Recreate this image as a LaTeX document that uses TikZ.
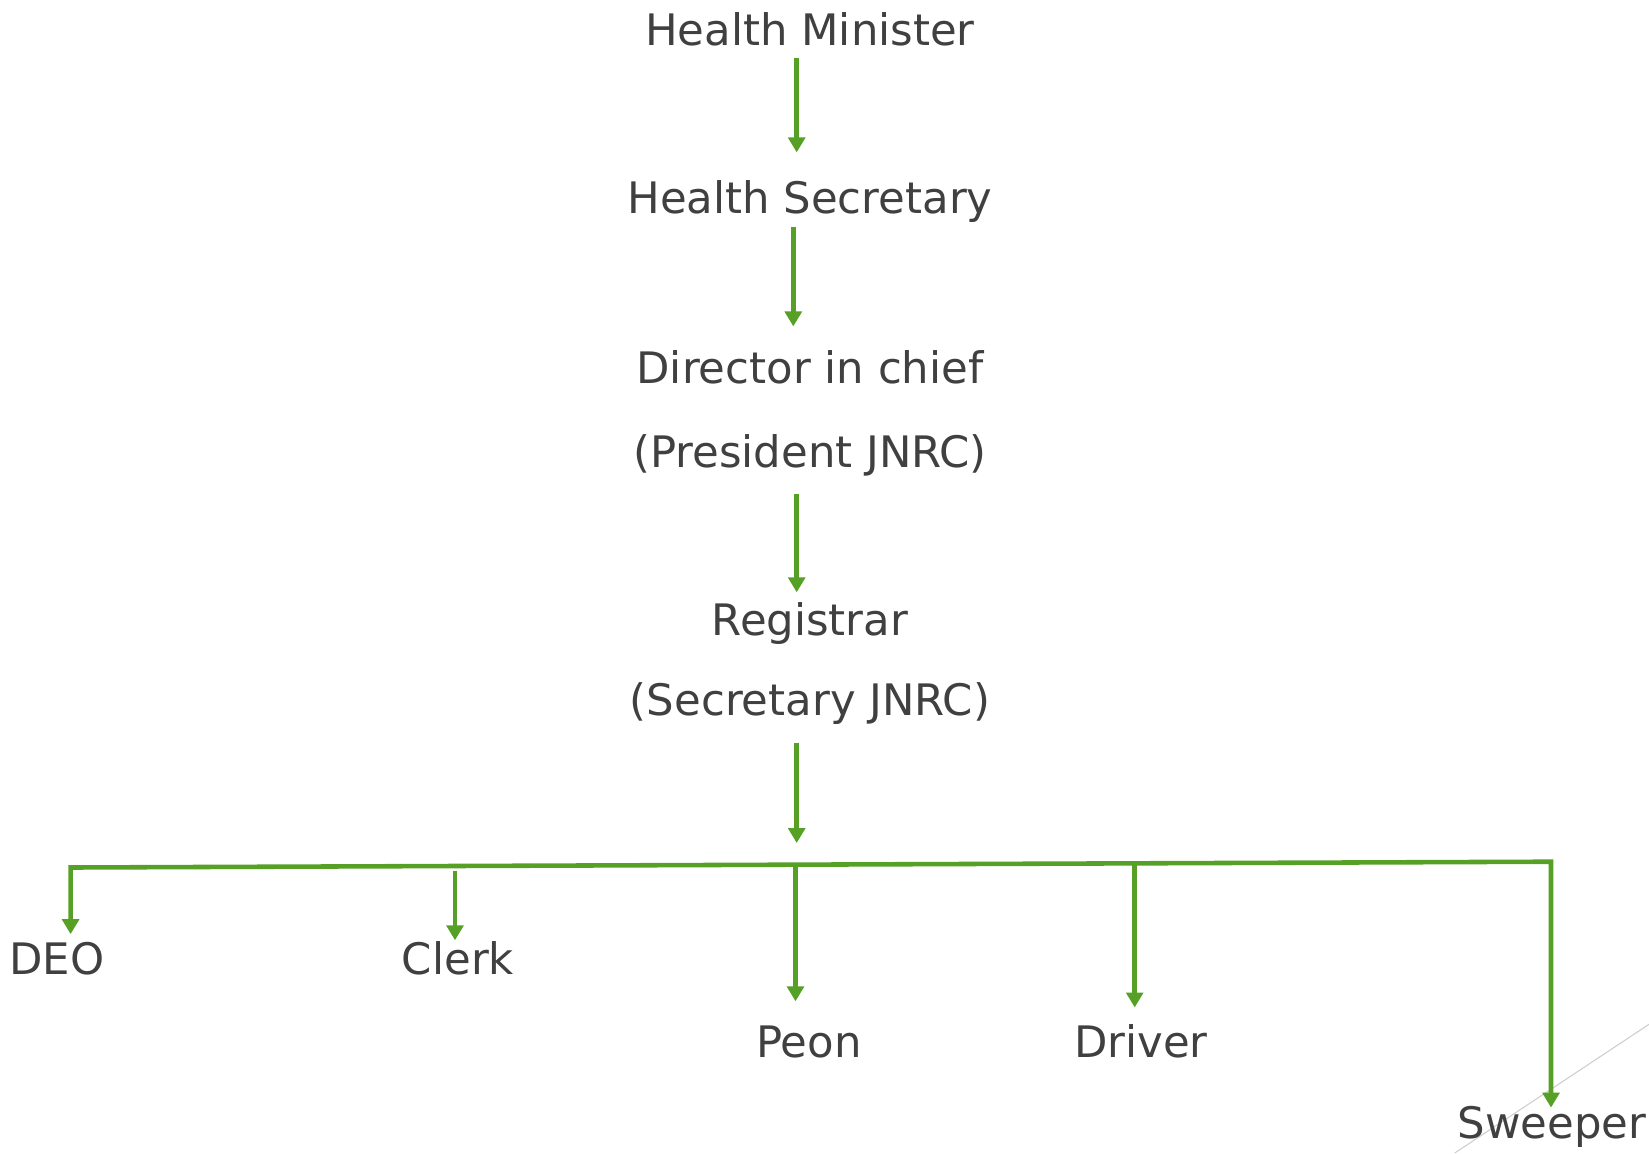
\documentclass[tikz,border=0pt]{standalone}
\usepackage{fontspec}
\setmainfont{DejaVu Sans}
\usetikzlibrary{arrows.meta}
\definecolor{chartgreen}{RGB}{86,160,38}
\definecolor{chartgray}{RGB}{64,64,64}
\definecolor{slidegray}{RGB}{205,205,205}

\begin{document}
\begin{tikzpicture}[x=0.02cm,y=-0.02cm,
  post/.style={text=chartgray,font=\fontsize{24.7}{30}\selectfont,inner sep=0pt,
    text height=19pt,text depth=6pt,anchor=base},
  link/.style={draw=chartgreen,line width=2.6pt,-{Triangle[width=9.5pt,length=8.5pt]}},
  rail/.style={draw=chartgreen,line width=2.6pt,
    {Triangle[width=9.5pt,length=8.5pt]}-{Triangle[width=9.5pt,length=8.5pt]}}]
  \useasboundingbox (0,0) rectangle (1649,1153);

  % slide decoration
  \draw[slidegray,line width=0.6pt] (1454.7,1153) -- (1649,1024.3);

  \node[post] (hm)      at (810,45)    {Health Minister};
  \node[post] (hs)      at (810,213)   {Health Secretary};
  \node[post] (dic)     at (810,383)   {Director in chief};
  \node[post] (pres)    at (810,467)   {(President JNRC)};
  \node[post] (reg)     at (810,635)   {Registrar};
  \node[post] (secj)    at (810,715)   {(Secretary JNRC)};
  \node[post] (deo)     at (57,974)    {DEO};
  \node[post] (clerk)   at (458,974)   {Clerk};
  \node[post] (peon)    at (809,1057)  {Peon};
  \node[post] (driver)  at (1141,1057) {Driver};
  \node[post] (sweeper) at (1552,1138) {Sweeper};

  \coordinate (sp1) at (796.7,0);
  \coordinate (sp2) at (793.3,0);
  \coordinate (barl) at (70.6,867.5);
  \coordinate (barr) at (1551,861.7);
  \coordinate (barm) at (796.7,864.6);
  \coordinate (tapc) at (455,871);
  \coordinate (tapp) at (795.5,864.6);
  \coordinate (tapd) at (1134.7,863.2);

  \draw[link,shorten <=1.4pt,shorten >=15.3pt] (hm.south -| sp1) -- (hs.north -| sp1);
  \draw[link,shorten <=1.8pt,shorten >=13pt] (hs.south -| sp2) -- (dic.north -| sp2);
  \draw[link,shorten <=9pt,shorten >=5.1pt] (pres.south -| sp1) -- (reg.north -| sp1);
  \draw[link,shorten <=9.8pt,shorten >=12.3pt] (secj.south -| sp1) -- (barm);

  \draw[rail,shorten <=3.5pt,shorten >=-1.9pt]
    (deo.north -| barl) -- (barl) -- (barr) -- (sweeper.north -| barr);
  \draw[link] (tapc) -- (clerk.north -| tapc);
  \draw[link,shorten >=12.5pt] (tapp) -- (peon.north -| tapp);
  \draw[link,shorten >=9pt] (tapd) -- (driver.north -| tapd);
\end{tikzpicture}
\end{document}
